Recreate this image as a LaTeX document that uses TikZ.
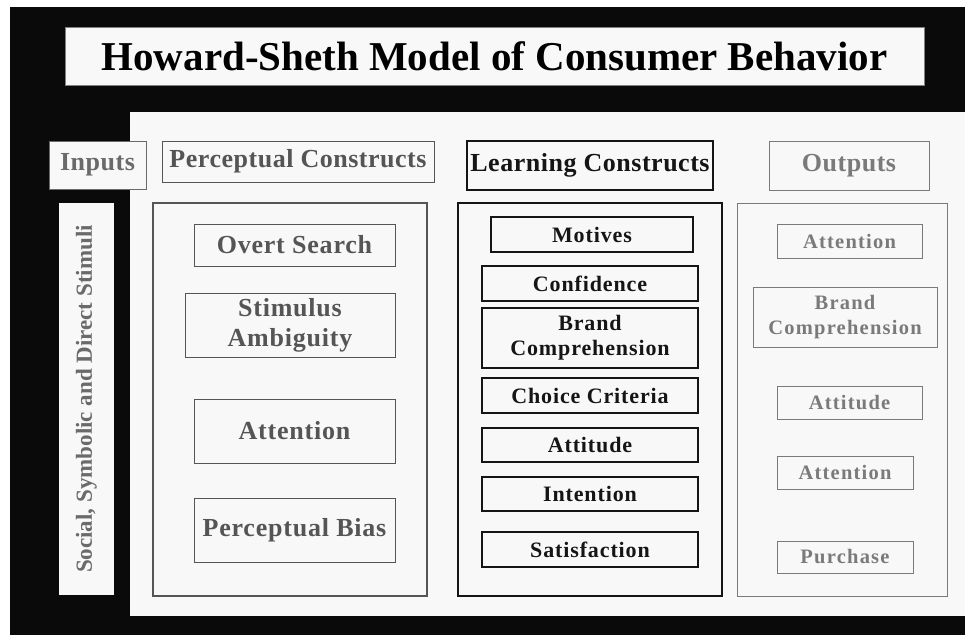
\documentclass[tikz,border=0pt]{standalone}
\usepackage{fontspec}
\setmainfont{Liberation Serif}

\definecolor{backdrop}{HTML}{0A0A0A}
\definecolor{panel}{HTML}{F8F8F8}
\definecolor{percgray}{HTML}{555555}
\definecolor{learnink}{HTML}{151515}
\definecolor{outgray}{HTML}{7A7A7A}
\definecolor{inputgray}{HTML}{6A6A6A}

\tikzset{
  modelnode/.style = {align=center, inner sep=0pt, text centered, fill=panel},
  headbox/.style = {modelnode, font=\bfseries\addfontfeature{LetterSpace=2}\fontsize{26}{28}\selectfont},
  frame/.style = {draw, line width=1.1pt},
  percbox/.style = {modelnode, draw=percgray, text=percgray, line width=1pt,
    font=\bfseries\addfontfeature{LetterSpace=3}\fontsize{26}{30}\selectfont},
  learnbox/.style = {modelnode, draw=learnink, text=learnink, line width=1.3pt,
    font=\bfseries\addfontfeature{LetterSpace=4}\fontsize{22}{25}\selectfont},
  outbox/.style = {modelnode, draw=outgray, text=outgray, line width=1pt,
    font=\bfseries\addfontfeature{LetterSpace=6}\fontsize{20.5}{25}\selectfont}
}

\begin{document}
\begin{tikzpicture}[x=1pt, y=-1pt]
\useasboundingbox (0,0) rectangle (965,635);
% backdrop and white panel
\fill[backdrop] (10,7) rectangle (965,635);
\fill[panel] (130,112) rectangle (965,616);

% title
\node [modelnode, draw=gray, line width=1pt, minimum width=859pt, minimum height=58pt,
       font=\bfseries\fontsize{41}{44}\selectfont, text=black] (title) at (494.5,56) {Howard-Sheth Model of Consumer Behavior};

% inputs
\node [headbox, draw=inputgray, text=inputgray, line width=1pt, minimum width=97pt, minimum height=48pt] (inputs) at (97.5,165) {Inputs};
\node [modelnode, rotate=90, text=inputgray, minimum width=392pt, minimum height=55pt,
       font=\bfseries\fontsize{23}{25}\selectfont] (stimuli) at (86.5,399) {Social, Symbolic and Direct Stimuli};

% perceptual constructs
\node [headbox, draw=percgray, text=percgray, line width=1pt, minimum width=272pt, minimum height=41pt] (perchead) at (298,161.5) {Perceptual Constructs};
\node [frame, draw=percgray, minimum width=274pt, minimum height=393pt] (percframe) at (290,399.5) {};
\node [percbox, minimum width=201pt, minimum height=42pt] (overt) at (294.5,245) {Overt Search};
\node [percbox, minimum width=210pt, minimum height=64pt] (ambiguity) at (290,325) {Stimulus\\Ambiguity};
\node [percbox, minimum width=201pt, minimum height=64pt] (pattention) at (294.5,431) {Attention};
\node [percbox, minimum width=201pt, minimum height=64pt] (bias) at (294.5,530) {Perceptual Bias};

% learning constructs
\node [headbox, draw=learnink, text=learnink, line width=1.3pt, minimum width=246pt, minimum height=49pt] (learnhead) at (590,165.5) {Learning Constructs};
\node [frame, draw=learnink, minimum width=264pt, minimum height=393pt] (learnframe) at (590,399.5) {};
\node [learnbox, minimum width=202pt, minimum height=35pt] (motives) at (592,234.5) {Motives};
\node [learnbox, minimum width=216pt, minimum height=35pt] (confidence) at (590,283.5) {Confidence};
\node [learnbox, minimum width=216pt, minimum height=60pt] (lbrand) at (590,338) {Brand\\Comprehension};
\node [learnbox, minimum width=216pt, minimum height=35pt] (criteria) at (590,395.5) {Choice Criteria};
\node [learnbox, minimum width=216pt, minimum height=34pt] (lattitude) at (590,445) {Attitude};
\node [learnbox, minimum width=216pt, minimum height=34pt] (intention) at (590,494) {Intention};
\node [learnbox, minimum width=216pt, minimum height=35pt] (satisfaction) at (590,549.5) {Satisfaction};

% outputs
\node [headbox, draw=outgray, text=outgray, line width=1pt, minimum width=160pt, minimum height=49pt] (outhead) at (849,165.5) {Outputs};
\node [frame, draw=outgray, line width=1pt, minimum width=210pt, minimum height=393pt] (outframe) at (842,399.5) {};
\node [outbox, minimum width=145pt, minimum height=34pt] (oattention) at (849.5,241) {Attention};
\node [outbox, minimum width=184pt, minimum height=60pt] (obrand) at (845,317) {Brand\\Comprehension};
\node [outbox, minimum width=145pt, minimum height=33pt] (oattitude) at (849.5,402.5) {Attitude};
\node [outbox, minimum width=136pt, minimum height=33pt] (oattention2) at (845,472.5) {Attention};
\node [outbox, minimum width=136pt, minimum height=32pt] (purchase) at (845,557) {Purchase};
\end{tikzpicture}
\end{document}
